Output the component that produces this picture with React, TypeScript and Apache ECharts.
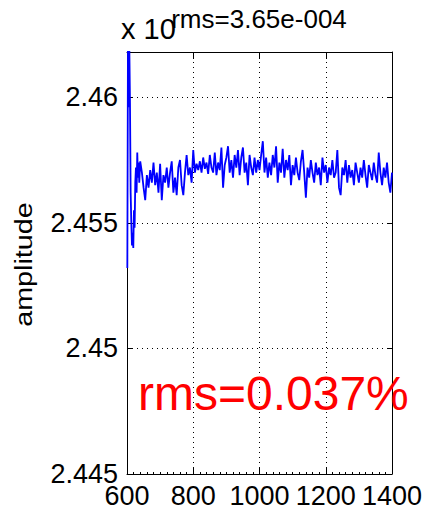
import React, { useEffect, useRef } from "react";
import * as echarts from "echarts";

// ---- data ----
const titleText = "rms=3.65e-004";
const exponentText = "x 10";
const yAxisLabel = "amplitude";
const noteText = "rms=0.037%";

const xTicks = [600, 800, 1000, 1200, 1400];
const yTicks = [2.445, 2.45, 2.455, 2.46];

// transient at the start (irregular sample positions)
const startX = [601, 603, 605, 607, 609, 611, 613, 615, 617, 619, 621, 623, 625, 627, 629, 631, 633, 635, 637];
const startY = [
  2.4532, 2.4625, 2.4596, 2.462, 2.4598, 2.4562, 2.455, 2.4541, 2.4546, 2.454,
  2.4555, 2.4548, 2.4566, 2.4572, 2.4562, 2.4578, 2.4568, 2.4574, 2.4566,
];

// steady part: samples every 5 from 640 to 1400
const steadyStart = 640;
const steadyStep = 5;
const steadyY = [
  2.45745, 2.457, 2.4564, 2.4559, 2.4569, 2.4564, 2.4571, 2.4566, 2.4574, 2.4565,
  2.457, 2.4562, 2.45735, 2.4559, 2.4569, 2.4566, 2.4572, 2.4564, 2.457, 2.45745,
  2.4562, 2.4568, 2.4561, 2.4572, 2.4575, 2.4565, 2.4561, 2.457, 2.4577, 2.4569,
  2.4572, 2.4566, 2.4579, 2.457, 2.45735, 2.4571, 2.45745, 2.457, 2.4576, 2.45715,
  2.4574, 2.45695, 2.4577, 2.4572, 2.457, 2.4578, 2.4569, 2.4574, 2.4571, 2.458,
  2.4564, 2.4573, 2.4576, 2.45805, 2.457, 2.4575, 2.4568, 2.4577, 2.4572, 2.4579,
  2.4569, 2.4576, 2.458, 2.457, 2.4574, 2.4565, 2.4577, 2.4572, 2.4569, 2.4576,
  2.457, 2.4575, 2.4571, 2.4577, 2.45825, 2.457, 2.4576, 2.4568, 2.4574, 2.4569,
  2.4577, 2.4572, 2.45805, 2.4566, 2.4574, 2.457, 2.45795, 2.4568, 2.4575, 2.4571,
  2.4577, 2.4565, 2.4573, 2.4569, 2.4576, 2.457, 2.4567, 2.45745, 2.4579, 2.457,
  2.456, 2.4572, 2.4568, 2.4575, 2.457, 2.4566, 2.4574, 2.4569, 2.4572, 2.4565,
  2.4576, 2.457, 2.4573, 2.4566, 2.4572, 2.4569, 2.4575, 2.4568, 2.457, 2.4579,
  2.4564, 2.4561, 2.4572, 2.4569, 2.4575, 2.4566, 2.4573, 2.4568, 2.4571, 2.4565,
  2.4574, 2.457, 2.4566, 2.4572, 2.4568, 2.4575, 2.4569, 2.4564, 2.4573, 2.457,
  2.4567, 2.4574, 2.4569, 2.4566, 2.4578, 2.457, 2.4565, 2.4572, 2.4568, 2.4574,
  2.4566, 2.4562, 2.457,
];

const FONT = "'Liberation Sans', Arial, Helvetica, sans-serif";

export default function App() {
  const ref = useRef<HTMLDivElement>(null);

  useEffect(() => {
    document.body.style.margin = "0";
    if (!ref.current) return;
    const chart = echarts.init(ref.current, undefined, { renderer: "svg" });

    const data: [number, number][] = [];
    startX.forEach((x, i) => data.push([x, startY[i]]));
    steadyY.forEach((v, i) => data.push([steadyStart + i * steadyStep, v]));

    const yMin = yTicks[0];
    const yMax = 2.4618;

    const isTick = (v: number) => yTicks.some((t) => Math.abs(t - v) < 1e-7);

    const dotted = { color: "#000", width: 1, type: [1, 4] as any };

    chart.setOption({
      animation: false,
      backgroundColor: "#fff",
      grid: { left: 127, right: 34, top: 52, bottom: 43, show: false },
      xAxis: [
        {
          type: "value",
          position: "bottom",
          min: xTicks[0],
          max: xTicks[xTicks.length - 1],
          interval: 200,
          axisLine: { show: true, onZero: false, lineStyle: { color: "#000", width: 1 } },
          axisTick: { show: true, inside: true, length: 7, lineStyle: { color: "#000" } },
          minorTick: { show: true, splitNumber: 10, length: 2, lineStyle: { color: "#000" } },
          axisLabel: {
            color: "#000",
            fontFamily: FONT,
            fontSize: 27,
            margin: 8,
            showMinLabel: true,
            showMaxLabel: true,
            hideOverlap: false,
            interval: 0,
            formatter: (v: number) => String(Math.round(v)),
          },
          splitLine: { show: true, lineStyle: dotted },
        },
        {
          type: "value",
          position: "top",
          min: xTicks[0],
          max: xTicks[xTicks.length - 1],
          interval: 200,
          axisLine: { show: true, onZero: false, lineStyle: { color: "#000", width: 1 } },
          axisTick: { show: true, inside: true, length: 7, lineStyle: { color: "#000" } },
          axisLabel: { show: false },
          splitLine: { show: false },
        },
      ],
      yAxis: [
        {
          type: "value",
          position: "left",
          min: yMin,
          max: yMax,
          interval: 0.005,
          axisLine: { show: true, onZero: false, lineStyle: { color: "#000", width: 1 } },
          axisTick: { show: true, inside: true, length: 5, lineStyle: { color: "#000" } },
          axisLabel: {
            color: "#000",
            fontFamily: FONT,
            fontSize: 27,
            margin: 9,
            showMaxLabel: false,
            hideOverlap: false,
            formatter: (v: number) => (isTick(v) ? String(parseFloat(v.toFixed(4))) : ""),
          },
          splitLine: { show: true, lineStyle: dotted },
        },
        {
          type: "value",
          position: "right",
          min: yMin,
          max: yMax,
          interval: 0.005,
          axisLine: { show: true, onZero: false, lineStyle: { color: "#000", width: 1 } },
          axisTick: { show: true, inside: true, length: 5, lineStyle: { color: "#000" } },
          axisLabel: { show: false },
          splitLine: { show: false },
        },
      ],
      series: [
        {
          type: "line",
          xAxisIndex: 0,
          yAxisIndex: 0,
          data,
          showSymbol: false,
          clip: true,
          lineStyle: { color: "#0000ff", width: 1.8 },
          z: 3,
        },
      ],
      graphic: [
        {
          type: "text",
          x: 121,
          y: 29,
          style: {
            text: exponentText,
            font: `29px ${FONT}`,
            fill: "#000",
            textAlign: "left",
            textVerticalAlign: "middle",
          },
        },
        {
          type: "text",
          x: 259,
          y: 19,
          style: {
            text: titleText,
            font: `26px ${FONT}`,
            fill: "#000",
            textAlign: "center",
            textVerticalAlign: "middle",
          },
        },
        {
          type: "text",
          x: 24,
          y: 264.5,
          rotation: Math.PI / 2,
          scaleX: 1.25,
          style: {
            text: yAxisLabel,
            font: `23px ${FONT}`,
            fill: "#000",
            textAlign: "center",
            textVerticalAlign: "middle",
          },
        },
        {
          type: "text",
          x: 138,
          y: 393.5,
          z: 10,
          style: {
            text: noteText,
            font: `48px ${FONT}`,
            fill: "#ff0000",
            textAlign: "left",
            textVerticalAlign: "middle",
          },
        },
      ],
    });

    return () => chart.dispose();
  }, []);

  return (
    <div
      ref={ref}
      style={{ position: "absolute", left: 0, top: 0, width: 426, height: 517, background: "#fff" }}
    />
  );
}
